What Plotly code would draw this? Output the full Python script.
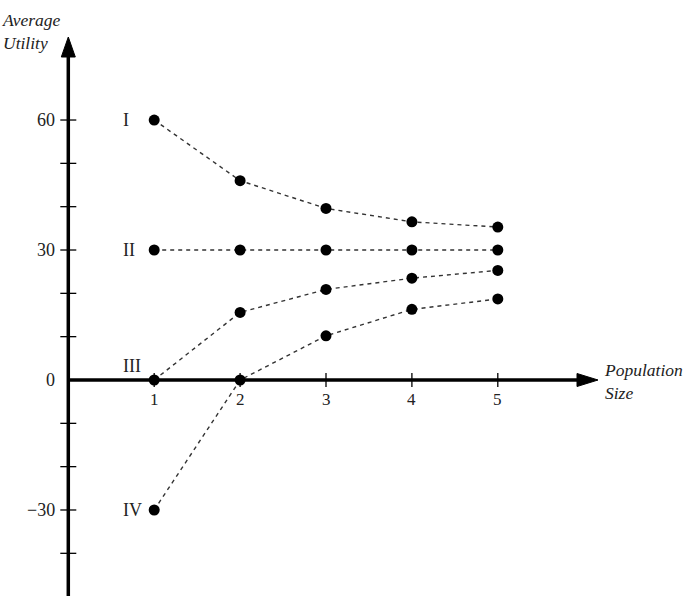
import plotly.graph_objects as go

# ---- data ----
population = [1, 2, 3, 4, 5]
series_I = [60, 46.0, 39.6, 36.5, 35.3]
series_II = [30, 30, 30, 30, 30]
series_III = [0, 15.6, 20.9, 23.5, 25.3]
series_IV = [-30, 0, 10.2, 16.3, 18.7]
series_names = ["I", "II", "III", "IV"]
y_tick_vals = [-30, 0, 30, 60]
y_minor_ticks = [-40, -30, -20, -10, 10, 20, 30, 40, 50, 60]
x_tick_vals = [1, 2, 3, 4, 5]

W, H = 694, 598
X0PX, XSCALE = 68.3, 85.9      # pixel of x=0, pixels per unit
Y0PX, YSCALE = 380.0, 4.333    # pixel of y=0, pixels per unit
FONT = "Liberation Serif"

xr = [-X0PX / XSCALE, (W - X0PX) / XSCALE]
yr = [(Y0PX - H) / YSCALE, Y0PX / YSCALE]

def px(xpix):
    return xpix / W

def py(ypix):
    return 1 - ypix / H

fig = go.Figure()
all_series = [series_I, series_II, series_III, series_IV]
for name, ys in zip(series_names, all_series):
    fig.add_trace(go.Scatter(
        x=population, y=ys, mode="lines",
        line=dict(color="#333333", width=1.4, dash="4px,4px"),
        showlegend=False, hoverinfo="skip"))

shapes = []
# axes lines
shapes.append(dict(type="line", xref="paper", yref="y", x0=px(X0PX), x1=px(585), y0=0, y1=0,
                   line=dict(color="black", width=3.5)))
shapes.append(dict(type="line", xref="x", yref="paper", x0=0, x1=0, y0=py(596), y1=py(50),
                   line=dict(color="black", width=3.5)))
# arrowheads
shapes.append(dict(type="path", xref="paper", yref="paper",
                   path=f"M {px(X0PX-7)} {py(57)} L {px(X0PX)} {py(37)} L {px(X0PX+7)} {py(57)} Z",
                   fillcolor="black", line=dict(color="black", width=1)))
shapes.append(dict(type="path", xref="paper", yref="paper",
                   path=f"M {px(577)} {py(Y0PX-6.5)} L {px(598)} {py(Y0PX)} L {px(577)} {py(Y0PX+6.5)} Z",
                   fillcolor="black", line=dict(color="black", width=1)))
# y ticks crossing axis
for v in y_minor_ticks:
    shapes.append(dict(type="line", xref="paper", yref="y", x0=px(X0PX - 8), x1=px(X0PX + 8),
                       y0=v, y1=v, line=dict(color="black", width=1.3)))
# x ticks
for v in x_tick_vals:
    shapes.append(dict(type="line", xref="x", yref="paper", x0=v, x1=v,
                       y0=py(Y0PX - 7), y1=py(Y0PX + 7), line=dict(color="black", width=1.3)))

for name, ys in zip(series_names, all_series):
    fig.add_trace(go.Scatter(
        x=population, y=ys, mode="markers",
        marker=dict(color="black", size=11, line=dict(width=0)),
        showlegend=False, hoverinfo="skip"))

annotations = []
for v in y_tick_vals:
    annotations.append(dict(x=px(X0PX - 11), xref="paper", y=v, yref="y",
                            text=("\u2212" + str(abs(v))) if v < 0 else str(v),
                            showarrow=False, xanchor="right", yanchor="middle",
                            font=dict(family=FONT, size=18, color="#222")))
for v in x_tick_vals:
    annotations.append(dict(x=v, xref="x", y=py(Y0PX + 19), yref="paper", text=str(v),
                            showarrow=False, xanchor="center", yanchor="middle",
                            font=dict(family=FONT, size=17, color="#222")))
label_yshift = {"I": 0, "II": 0, "III": 14, "IV": 0}
for name, ys in zip(series_names, all_series):
    annotations.append(dict(x=population[0], xref="x", y=ys[0], yref="y", text=name,
                            showarrow=False, xanchor="left", yanchor="middle",
                            xshift=-33, yshift=label_yshift[name],
                            font=dict(family=FONT, size=18, color="#222")))
# axis titles
annotations.append(dict(x=0, xref="paper", y=py(32), yref="paper",
                        text="<i>Average</i><br><i>Utility</i>", align="left",
                        showarrow=False, xanchor="left", yanchor="middle",
                        font=dict(family=FONT, size=17.5, color="#222")))
annotations.append(dict(x=px(602), xref="paper", y=py(381), yref="paper",
                        text="<i>Population</i><br><i>Size</i>", align="left",
                        showarrow=False, xanchor="left", yanchor="middle",
                        font=dict(family=FONT, size=17.5, color="#222")))

fig.update_layout(
    width=W, height=H, margin=dict(l=0, r=0, t=0, b=0),
    paper_bgcolor="white", plot_bgcolor="white",
    xaxis=dict(range=xr, visible=False, fixedrange=True),
    yaxis=dict(range=yr, visible=False, fixedrange=True),
    shapes=shapes, annotations=annotations,
)
fig.write_html("out.html")
